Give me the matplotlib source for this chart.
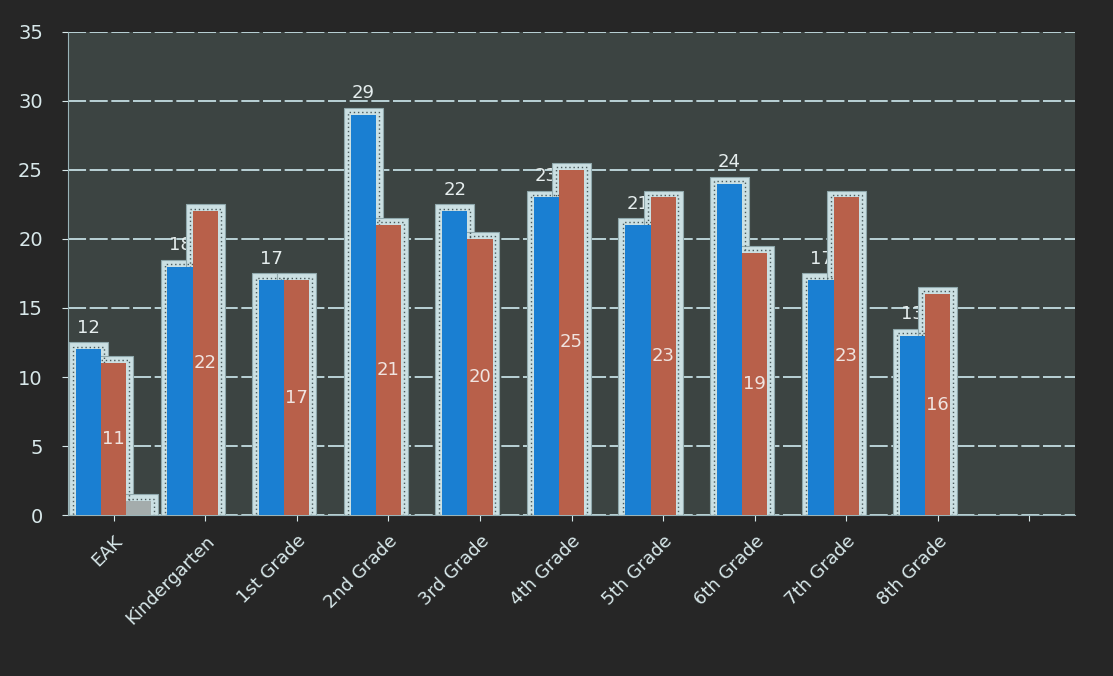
import numpy as np
import matplotlib.pyplot as plt
from matplotlib.patches import Rectangle

categories = ['EAK', 'Kindergarten', '1st Grade', '2nd Grade', '3rd Grade',
              '4th Grade', '5th Grade', '6th Grade', '7th Grade', '8th Grade', '']
blue_vals = [12, 18, 17, 29, 22, 23, 21, 24, 17, 13, 0]
red_vals = [11, 22, 17, 21, 20, 25, 23, 19, 23, 16, 0]
gray_vals = [1, 0, 0, 0, 0, 0, 0, 0, 0, 0, 0]
n_shown = 10

fig = plt.figure(figsize=(11.13, 6.76), dpi=100)
fig.patch.set_facecolor('#262626')
ax = fig.add_axes([0.061, 0.238, 0.905, 0.715])
ax.set_facecolor('#3c4442')

x = np.arange(len(categories))
w = 0.275
series = [(blue_vals, '#1a7fd2', -w), (red_vals, '#b8604a', 0), (gray_vals, '#a4acac', w)]

# light outline drawn behind all bars
padx, pady = 0.075, 0.5
for vals, col, off in series:
    for i in range(n_shown):
        if vals[i] == 0:
            continue
        ax.add_patch(Rectangle((x[i] + off - w / 2 - padx, 0), w + 2 * padx, vals[i] + pady,
                               facecolor='#cbe0e3', edgecolor='#8fa8ac', lw=0.8, zorder=2))
        ax.add_patch(Rectangle((x[i] + off - w / 2 - padx * 0.4, 0), w + 0.8 * padx,
                               vals[i] + pady * 0.4, facecolor='none', edgecolor='#4a5a5c',
                               lw=1.0, linestyle=(0, (1, 2)), zorder=2.5))

for vals, col, off in series:
    ax.bar(x[:n_shown] + off, vals[:n_shown], w, color=col, zorder=3)

for i in range(n_shown):
    ax.text(x[i] - w, blue_vals[i] + 0.9, str(blue_vals[i]), ha='center', va='bottom',
            color='#e6eeee', fontsize=13, zorder=1)
    ax.text(x[i], red_vals[i] / 2, str(red_vals[i]), ha='center', va='center',
            color='#f0e4e0', fontsize=13, zorder=4)

ax.set_xlim(-0.5, len(categories) - 0.5)
ax.set_ylim(0, 35)
ax.set_yticks(range(0, 36, 5))
ax.yaxis.grid(True, color='#c4dde2', linestyle=(0, (10, 2)), lw=1.3, zorder=1)
ax.set_axisbelow(True)
ax.set_xticks(x)
ax.set_xticklabels(categories, rotation=45, ha='right', rotation_mode='anchor')
ax.tick_params(axis='x', colors='#d8e8ea', labelsize=13, length=4, pad=8)
ax.tick_params(axis='y', colors='#d8e8ea', labelsize=14, length=4, pad=14)
for s in ['top', 'right']:
    ax.spines[s].set_visible(False)
ax.spines['left'].set_color('#9ab4b8')
ax.spines['bottom'].set_color('#9ab4b8')

fig.savefig('out.png', dpi=100, facecolor=fig.get_facecolor())
